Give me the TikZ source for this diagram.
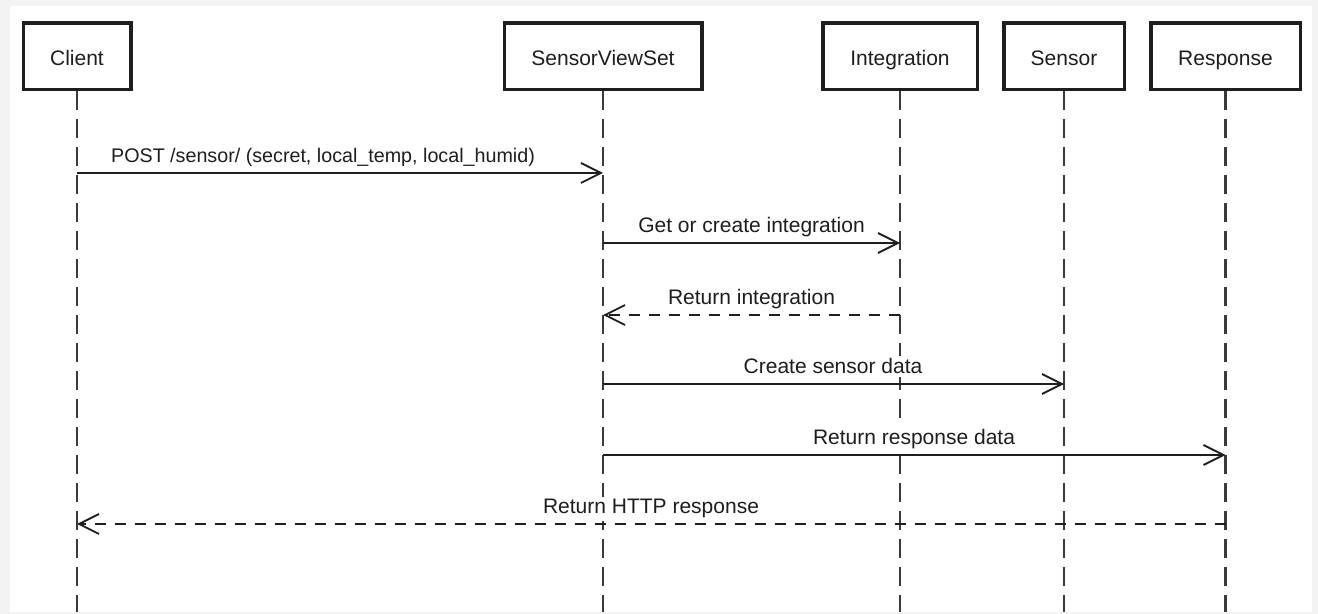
\documentclass[tikz,border=0pt]{standalone}
\usepackage{fontspec}
\setmainfont{Liberation Sans}
\usetikzlibrary{arrows.meta}
\definecolor{framebg}{HTML}{F3F3F3}
\definecolor{ink}{HTML}{1E1E1E}
\definecolor{lifeink}{HTML}{3A3A3A}
\begin{document}
\begin{tikzpicture}[x=0.5pt,y=-0.5pt,
  actor/.style={draw=ink, line width=1.75pt, fill=white, minimum height=33.25pt,
    inner sep=0pt, text height=9pt, text depth=0pt,
    font=\fontsize{10.5}{12}\selectfont, text=ink},
  life/.style={draw=lifeink, line width=1.2pt, dash pattern=on 9.5pt off 4.5pt},
  msg/.style={draw=ink, line width=0.9pt, -{Straight Barb[length=10pt,width=10pt,line width=0.9pt]}},
  ret/.style={msg, dash pattern=on 5.5pt off 4.5pt},
  lbl/.style={anchor=base, fill=white, inner xsep=1pt, inner ysep=1.5pt,
    font=\fontsize{10.5}{12}\selectfont, text=ink}
]
\useasboundingbox (0,0) rectangle (1318,614);
\fill[framebg] (0,0) rectangle (1318,614);
\fill[white] (10,6) rectangle (1312,612);

\node[actor, minimum width=53.75pt] (client) at (77,56.5) {Client};
\node[actor, minimum width=98.75pt] (svs) at (603,56.5) {SensorViewSet};
\node[actor, minimum width=77.25pt] (integ) at (900,56.5) {Integration};
\node[actor, minimum width=60.25pt] (sensor) at (1064,56.5) {Sensor};
\node[actor, minimum width=74.75pt] (resp) at (1225.5,56.5) {Response};

\coordinate (bot) at (0,612);
\coordinate (m1) at (0,173);
\coordinate (m2) at (0,243);
\coordinate (m3) at (0,315);
\coordinate (m4) at (0,384);
\coordinate (m5) at (0,455);
\coordinate (m6) at (0,524);

\draw[life] (client.south) -- (client.south |- bot);
\draw[life] (svs.south) -- (svs.south |- bot);
\draw[life] (integ.south) -- (integ.south |- bot);
\draw[life] (sensor.south) -- (sensor.south |- bot);
\draw[life] (resp.south) -- (resp.south |- bot);

\node[lbl, font=\fontsize{9.85}{12}\selectfont] (l1) at (323,163) {POST /sensor/ (secret, local\_temp, local\_humid)};
\draw[msg] (client.south |- m1) -- (svs.south |- m1);

\node[lbl] (l2) at (751.5,233) {Get or create integration};
\draw[msg] (svs.south |- m2) -- (integ.south |- m2);

\node[lbl] (l3) at (751.5,305) {Return integration};
\draw[ret] (integ.south |- m3) -- (svs.south |- m3);

\node[lbl] (l4) at (833,374) {Create sensor data};
\draw[msg] (svs.south |- m4) -- (sensor.south |- m4);

\node[lbl] (l5) at (914,445) {Return response data};
\draw[msg] (svs.south |- m5) -- (resp.south |- m5);

\node[lbl] (l6) at (651,514) {Return HTTP response};
\draw[ret] (resp.south |- m6) -- (client.south |- m6);
\end{tikzpicture}
\end{document}
